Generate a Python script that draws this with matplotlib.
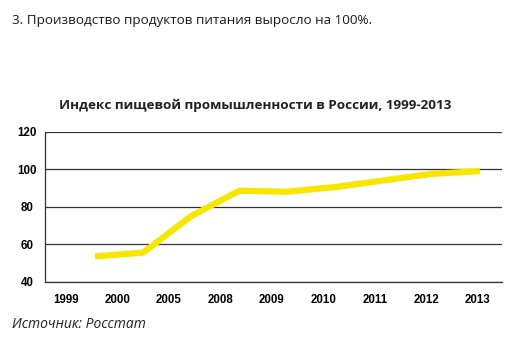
import matplotlib
matplotlib.use('Agg')
import matplotlib.pyplot as plt
import numpy as np

# Индекс пищевой промышленности, точки ряда
years = ['1999', '2000', '2005', '2008', '2009', '2010', '2011', '2012', '2013']
index_values = [53.5, 55.5, 75, 88.5, 88, 90.5, 94, 97.5, 99]
y_ticks = [40, 60, 80, 100, 120]

line_color = '#f7e600'

fig = plt.figure(figsize=(5.19, 3.40), dpi=100)

fig.text(0.023, 0.94, '3. Производство продуктов питания выросло на 100%.',
         fontsize=9.7, family='Open Sans', color='#1a1a1a', va='center')
fig.text(0.492, 0.69, 'Индекс пищевой промышленности в России, 1999-2013',
         fontsize=9.7, family='Open Sans', fontweight='bold', color='#222222',
         ha='center', va='center')
fig.text(0.023, 0.045, 'Источник: Росстат', fontsize=10, family='Open Sans',
         style='italic', color='#222222', va='center')

# область графика
ax = fig.add_axes([45 / 519, 1 - 281.7 / 340, 457 / 519, 150 / 340])
ax.set_ylim(40, 120)
ax.set_xlim(-0.41, 8.47)
ax.set_yticks(y_ticks)
ax.set_yticklabels([str(v) for v in y_ticks])
ax.set_xticks(np.arange(len(years)))
ax.set_xticklabels(years)
ax.tick_params(length=0, labelsize=8.3, pad=9)
ax.tick_params(axis='y', pad=13)
for lbl in ax.get_xticklabels() + ax.get_yticklabels():
    lbl.set_fontweight('bold')
    lbl.set_family('Liberation Sans')
for lbl in ax.get_yticklabels():
    lbl.set_horizontalalignment('center')
ax.grid(axis='y', color='#333333', linewidth=0.9)
ax.set_axisbelow(True)
for s in ['top', 'right']:
    ax.spines[s].set_visible(False)
ax.spines['left'].set_color('#333333')
ax.spines['bottom'].set_color('#333333')
ax.spines['left'].set_linewidth(0.9)
ax.spines['bottom'].set_linewidth(0.9)

# ряд смещён относительно подписей категорий
ax2 = ax.twiny()
ax2.set_xlim(-1.04, 8.46)
ax2.plot(np.arange(len(index_values)), index_values, color=line_color,
         linewidth=4.5, solid_capstyle='butt')
ax2.axis('off')
ax2.set_ylim(40, 120)

fig.savefig('out.png', dpi=100)
